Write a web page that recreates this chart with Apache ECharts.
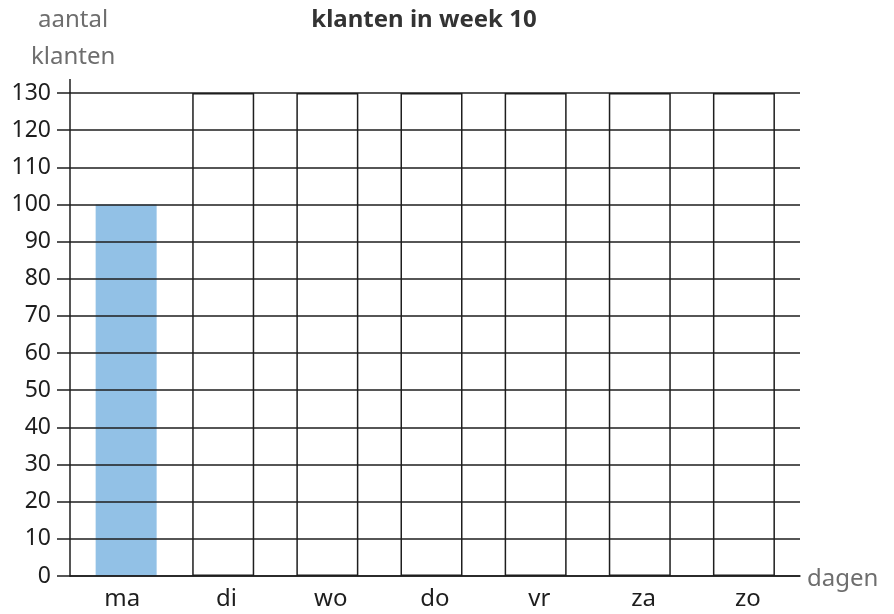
<!DOCTYPE html>
<html>
<head>
<meta charset="utf-8">
<script src="https://cdn.jsdelivr.net/npm/echarts@6/dist/echarts.min.js"></script>
<style>
html,body{margin:0;padding:0;background:#fff;}
#c{width:894px;height:614px;}
</style>
</head>
<body>
<div id="c"></div>
<script>
const categories = ['ma', 'di', 'wo', 'do', 'vr', 'za', 'zo'];
const customers = [100, null, null, null, null, null, null];
const yMin = 0, yMax = 130, yStep = 10;
const titleText = 'klanten in week 10';
const yName = ['aantal', 'klanten'];
const xName = 'dagen';

const FONT = '"Noto Sans", "Open Sans", sans-serif';
const INK = '#1e1e1e';
const GRAY = '#6e6e6e';

// empty slots (frames) for days without a bar yet
const frames = customers.map(v => (v === null ? yMax : null));

const TOP = 93, BOTTOM = 38;
const chart = echarts.init(document.getElementById('c'));
const hiddenY = (g) => ({ gridIndex: g, type: 'value', min: yMin, max: yMax, interval: yStep, show: false });
const hiddenX = (g) => ({ gridIndex: g, type: 'category', data: categories, boundaryGap: true, show: false });

const option = {
  animation: false,
  backgroundColor: '#fff',
  textStyle: { fontFamily: FONT },
  title: {
    text: titleText,
    left: 419, top: 3, textAlign: 'center',
    textStyle: { fontFamily: FONT, fontSize: 24, fontWeight: 'bold', color: '#333' }
  },
  grid: [
    { left: 70, right: 94, top: TOP, bottom: BOTTOM },   // axes, gridlines, labels
    { left: 74, right: 90, top: TOP, bottom: BOTTOM },   // filled bar
    { left: 67, right: 98, top: TOP, bottom: BOTTOM }    // empty frames
  ],
  xAxis: [
    {
      gridIndex: 0, type: 'category', data: categories, boundaryGap: true, z: 10,
      axisLine: { show: true, onZero: false, lineStyle: { color: INK, width: 1.5 } },
      axisTick: { show: false },
      axisLabel: { color: INK, fontSize: 24, fontFamily: FONT, margin: 11 },
      splitLine: { show: false }
    },
    hiddenX(1),
    hiddenX(2)
  ],
  yAxis: [
    {
      gridIndex: 0, type: 'value', min: yMin, max: yMax, interval: yStep, z: 10,
      axisLine: { show: true, lineStyle: { color: INK, width: 1.5 } },
      axisTick: { show: true, length: 13, lineStyle: { color: INK, width: 1.5 } },
      axisLabel: { color: INK, fontSize: 23, fontFamily: FONT, margin: 19 },
      splitLine: { show: true, lineStyle: { color: INK, width: 1.5 } }
    },
    hiddenY(1),
    hiddenY(2)
  ],
  series: [
    {
      type: 'bar', xAxisIndex: 2, yAxisIndex: 2,
      data: frames, barWidth: 62,
      itemStyle: { color: 'rgba(0,0,0,0)', borderColor: INK, borderWidth: 1.5 },
      silent: true, z: 3
    },
    {
      type: 'bar', xAxisIndex: 1, yAxisIndex: 1,
      data: customers, barWidth: 61,
      itemStyle: { color: '#92c1e6' }, z: 1
    }
  ],
  graphic: [
    {
      type: 'text', left: 38, top: 8,
      style: { text: yName[0], fontSize: 24, fontFamily: FONT, fill: GRAY }
    },
    {
      type: 'text', left: 31, top: 45,
      style: { text: yName[1], fontSize: 24, fontFamily: FONT, fill: GRAY }
    },
    {
      type: 'text', left: 807, top: 567,
      style: { text: xName, fontSize: 24, fontFamily: FONT, fill: GRAY }
    }
  ]
};
chart.setOption(option);

// y-axis line sticks out a little above the top gridline
const topPt = chart.convertToPixel({ xAxisIndex: 0, yAxisIndex: 0 }, [0, yMax]);
chart.setOption({
  graphic: [
    {}, {}, {},
    {
      type: 'line', silent: true,
      shape: { x1: 70, y1: topPt[1] - 14, x2: 70, y2: topPt[1] },
      style: { stroke: INK, lineWidth: 1.5 }
    }
  ]
});
</script>
</body>
</html>
